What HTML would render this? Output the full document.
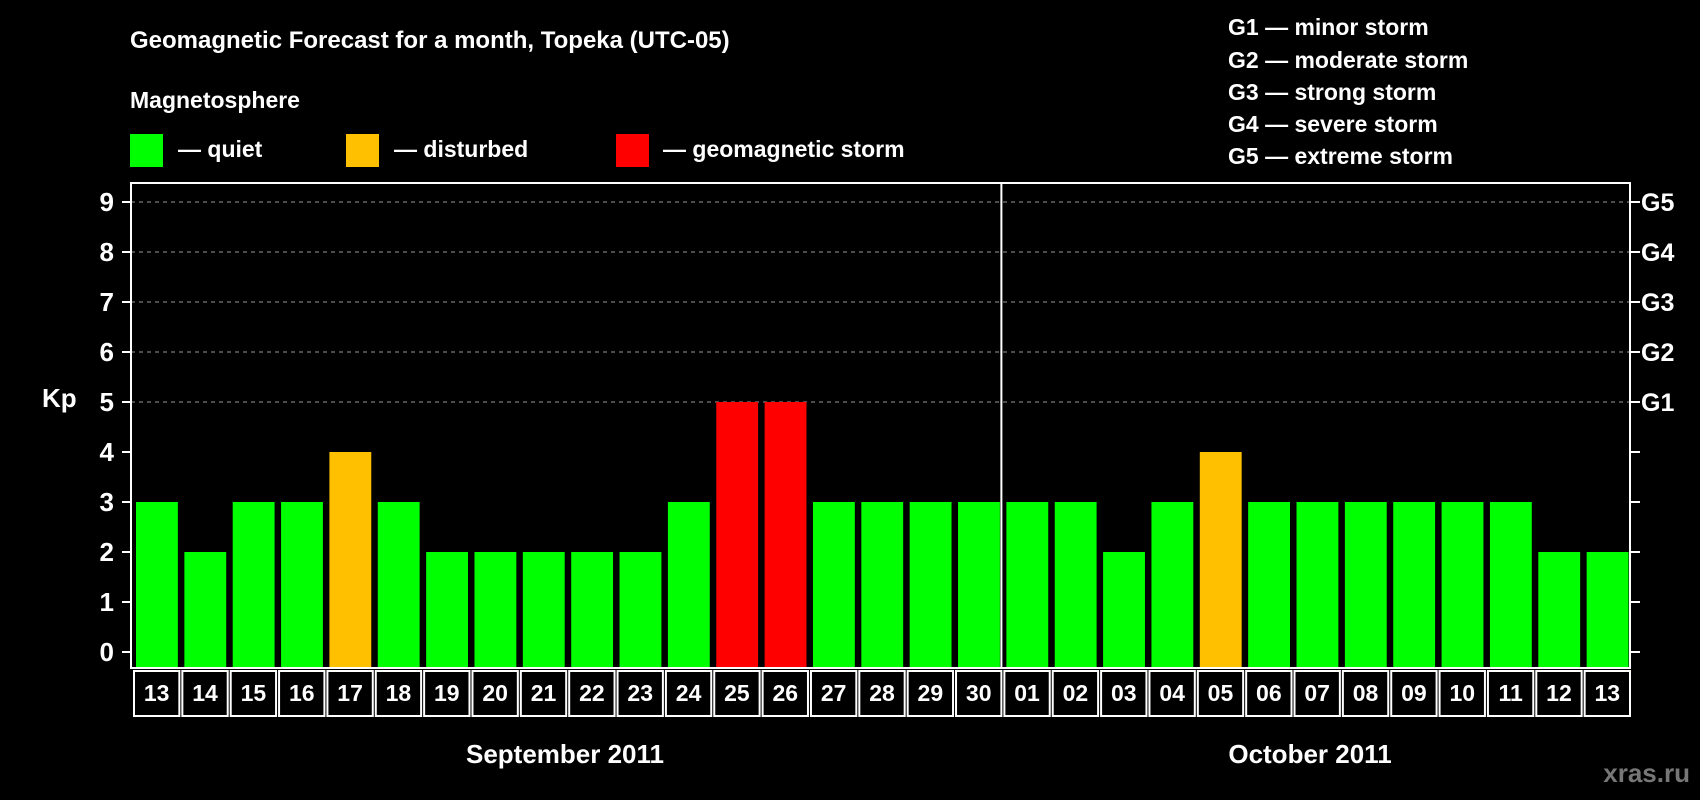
<!DOCTYPE html>
<html><head><meta charset="utf-8">
<style>
html,body{margin:0;padding:0;background:#000;}
svg{display:block;font-family:"Liberation Sans",Arial,sans-serif;font-weight:bold;}
</style></head>
<body>
<svg id="chart" width="1700" height="800" viewBox="0 0 1700 800">
<rect width="1700" height="800" fill="#000"/>
<text x="130" y="48" fill="#fff" font-size="24">Geomagnetic Forecast for a month, Topeka (UTC-05)</text>
<text x="130" y="108" fill="#fff" font-size="23">Magnetosphere</text>
<g>
<rect x="130" y="134" width="33" height="33" fill="#00ff00"/>
<text x="178" y="157" fill="#fff" font-size="23">— quiet</text></g>
<g>
<rect x="346" y="134" width="33" height="33" fill="#ffc000"/>
<text x="394" y="157" fill="#fff" font-size="23">— disturbed</text></g>
<g>
<rect x="616" y="134" width="33" height="33" fill="#ff0000"/>
<text x="663" y="157" fill="#fff" font-size="23">— geomagnetic storm</text></g>
<g fill="#fff" font-size="23">
<text x="1228" y="35">G1 — minor storm</text>
<text x="1228" y="68">G2 — moderate storm</text>
<text x="1228" y="100">G3 — strong storm</text>
<text x="1228" y="132">G4 — severe storm</text>
<text x="1228" y="164">G5 — extreme storm</text>
</g>
<text x="42" y="407" fill="#fff" font-size="26">Kp</text>
<text x="565" y="763" fill="#fff" font-size="26" text-anchor="middle">September 2011</text>
<text x="1310" y="763" fill="#fff" font-size="26" text-anchor="middle">October 2011</text>
<text x="1690" y="782" fill="#777" font-size="26" text-anchor="end">xras.ru</text>
<g id="plot"></g>
</svg>
<script>
const days = ["13","14","15","16","17","18","19","20","21","22","23","24","25","26","27","28","29","30","01","02","03","04","05","06","07","08","09","10","11","12","13"];
const kpValues = [3,2,3,3,4,3,2,2,2,2,2,3,5,5,3,3,3,3,3,3,2,3,4,3,3,3,3,3,3,2,2];
const yTicks = [0,1,2,3,4,5,6,7,8,9];
const gLabels = ["G1","G2","G3","G4","G5"];
const monthSplit = 18;

const NS="http://www.w3.org/2000/svg";
const g=document.getElementById('plot');
const L=131,R=1630,T=183,B=668;
const pitch=(R-L)/days.length;
const yS=v=>652-v*50;
const xS=i=>L+i*pitch;
function mk(t,a){const e=document.createElementNS(NS,t);for(const k in a)e.setAttribute(k,a[k]);g.appendChild(e);return e;}
yTicks.forEach(v=>{
  const y=yS(v);
  if(v>=5){const gl=mk('line',{x1:L,x2:R,y1:y,y2:y,stroke:'#999','stroke-dasharray':'4,4','stroke-width':1});
  
  }
  const t1=mk('line',{x1:L-9,x2:L,y1:y,y2:y,stroke:'#fff','stroke-width':2});
  
  
  const t2=mk('line',{x1:R,x2:R+10,y1:y,y2:y,stroke:'#fff','stroke-width':2});
  
  
  const tl=mk('text',{x:114,y:y+9,fill:'#fff','font-size':26,'text-anchor':'end'});tl.textContent=v;
  
  
  if(v>=5){const gt=mk('text',{x:1641,y:y+9,fill:'#fff','font-size':25});gt.textContent=gLabels[v-5];
  
  }
});
kpValues.forEach((v,i)=>{
  const col=v>=5?'#ff0000':(v>=4?'#ffc000':'#00ff00');
  const b=mk('rect',{x:xS(i)+5,y:yS(v),width:pitch-6.5,height:B-yS(v),fill:col});
  
  
  const c=mk('rect',{x:xS(i)+3,y:671,width:pitch-3,height:45,fill:'none',stroke:'#fff','stroke-width':2});
  
  
  const t=mk('text',{x:xS(i)+3+(pitch-3)/2,y:701,fill:'#fff','font-size':23,'text-anchor':'middle'});t.textContent=days[i];
  
  
});
const dv=mk('line',{x1:xS(monthSplit),x2:xS(monthSplit),y1:T,y2:B,stroke:'#fff','stroke-width':2});


const fr=mk('rect',{x:L,y:T,width:R-L,height:B-T,fill:'none',stroke:'#fff','stroke-width':2});


</script>
</body></html>
